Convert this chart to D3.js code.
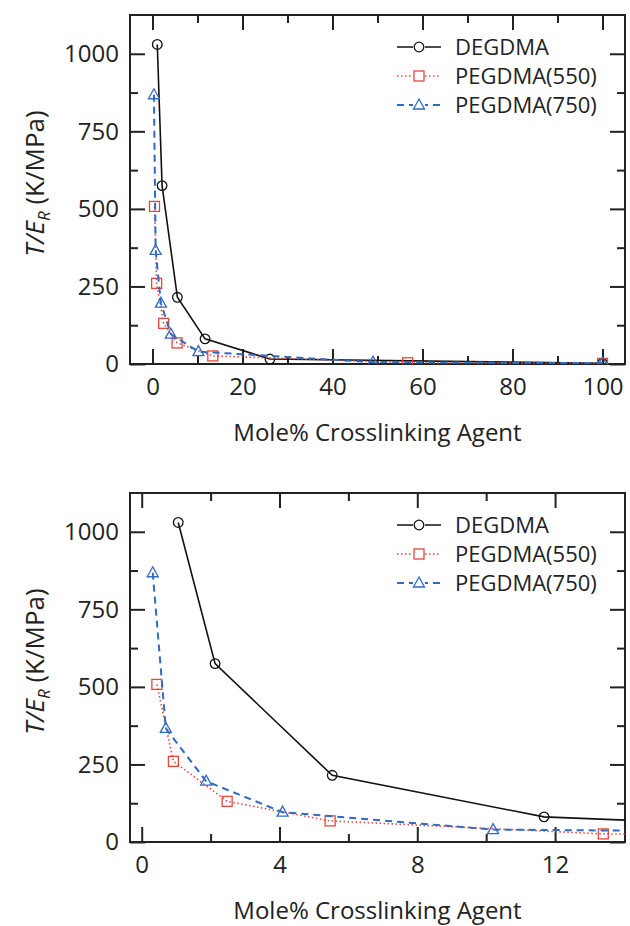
<!DOCTYPE html>
<html lang="en">
<head>
    <meta charset="UTF-8">
    <title>T/E_R vs Mole% Crosslinking Agent</title>
    <script src="https://cdn.jsdelivr.net/npm/d3@7"></script>
    <style>
        body { margin: 0; background: #fff; }
        svg text { font-family: "Open Sans", "DejaVu Sans", sans-serif; fill: #222; }
    </style>
</head>
<body>

<script>
    // values
    var degX = [1.06, 2.13, 5.53, 11.68, 26.1, 100];
    var degY = [1030, 575, 215, 81, 16, 2];
    var p550X = [0.44, 0.92, 2.48, 5.47, 13.4, 56.7, 100];
    var p550Y = [508, 260, 131, 68, 26, 4, 2];
    var p750X = [0.32, 0.70, 1.87, 4.09, 10.2, 49, 100];
    var p750Y = [868, 366, 196, 96, 40, 6, 3];

    var seriesNames = ["DEGDMA", "PEGDMA(550)", "PEGDMA(750)"];
    var yTicks = [0, 250, 500, 750, 1000];
    var yMinor = [125, 375, 625, 875];
    var topXTicks = [0, 20, 40, 60, 80, 100];
    var topXMinor = [10, 30, 50, 70, 90];
    var botXTicks = [0, 4, 8, 12];
    var botXMinor = [2, 6, 10];
    var xTitle = "Mole% Crosslinking Agent";

    var series = [
        {name: seriesNames[0], xs: degX, ys: degY, color: "#111", dash: null, width: 1.6, shape: "circle"},
        {name: seriesNames[1], xs: p550X, ys: p550Y, color: "#e5473b", dash: "1.5,2.5", width: 1.6, shape: "square"},
        {name: seriesNames[2], xs: p750X, ys: p750Y, color: "#2f6bc1", dash: "7,5", width: 2, shape: "triangle"}
    ];

    var width = 630, height = 926;
    var svg = d3.select("body").append("svg")
        .attr("width", width)
        .attr("height", height);

    function drawMarker(g, shape, color) {
        if (shape == "circle") {
            g.append("circle").attr("r", 4.8)
                .attr("fill", "none").attr("stroke", color).attr("stroke-width", 1.3);
        } else if (shape == "square") {
            g.append("rect").attr("x", -5).attr("y", -5).attr("width", 10).attr("height", 10)
                .attr("fill", "none").attr("stroke", color).attr("stroke-width", 1.3);
        } else {
            g.append("path").attr("d", "M0,-6L5.5,4L-5.5,4Z")
                .attr("fill", "none").attr("stroke", color).attr("stroke-width", 1.3);
        }
    }

    function panel(id, top, xDomain, xTicks, xMinor) {
        var left = 130, right = 625, bottom = top + 349;
        var x = d3.scaleLinear().domain(xDomain).range([left, right]);
        var y = d3.scaleLinear().domain([0, 1125]).range([bottom, top]);

        var g = svg.append("g");

        g.append("clipPath").attr("id", id)
            .append("rect")
            .attr("x", left).attr("y", top)
            .attr("width", right - left).attr("height", bottom - top);

        // ticks on all four sides, pointing inwards
        var major = 15, minor = 8;
        var axes = [
            {axis: d3.axisBottom(x).tickValues(xTicks).tickSize(-major).tickPadding(14).tickFormat(d3.format("d")), tr: "translate(0," + bottom + ")"},
            {axis: d3.axisBottom(x).tickValues(xMinor).tickSize(-minor).tickFormat(""), tr: "translate(0," + bottom + ")"},
            {axis: d3.axisTop(x).tickValues(xTicks).tickSize(-major).tickFormat(""), tr: "translate(0," + top + ")"},
            {axis: d3.axisTop(x).tickValues(xMinor).tickSize(-minor).tickFormat(""), tr: "translate(0," + top + ")"},
            {axis: d3.axisLeft(y).tickValues(yTicks).tickSize(-major).tickPadding(11).tickFormat(d3.format("d")), tr: "translate(" + left + ",0)"},
            {axis: d3.axisLeft(y).tickValues(yMinor).tickSize(-minor).tickFormat(""), tr: "translate(" + left + ",0)"},
            {axis: d3.axisRight(y).tickValues(yTicks).tickSize(-major).tickFormat(""), tr: "translate(" + right + ",0)"},
            {axis: d3.axisRight(y).tickValues(yMinor).tickSize(-minor).tickFormat(""), tr: "translate(" + right + ",0)"}
        ];
        axes.forEach(function (a) {
            var ag = g.append("g").attr("transform", a.tr).call(a.axis);
            ag.select(".domain").remove();
            ag.selectAll(".tick line").attr("stroke", "#222").attr("stroke-width", 2);
            ag.selectAll(".tick text").attr("font-size", 24).attr("fill", "#222")
                .style("font-family", "'Open Sans', sans-serif");
        });

        // frame
        g.append("rect")
            .attr("x", left).attr("y", top)
            .attr("width", right - left).attr("height", bottom - top)
            .attr("fill", "none").attr("stroke", "#222").attr("stroke-width", 2);

        var plot = g.append("g").attr("clip-path", "url(#" + id + ")");
        var line = d3.line().x(d => x(d[0])).y(d => y(d[1]));

        series.forEach(function (s) {
            var pts = s.xs.map((v, i) => [v, s.ys[i]]);
            plot.append("path")
                .datum(pts)
                .attr("d", line)
                .attr("fill", "none")
                .attr("stroke", s.color)
                .attr("stroke-width", s.width)
                .attr("stroke-dasharray", s.dash);
            pts.forEach(function (p) {
                var m = plot.append("g").attr("transform", "translate(" + x(p[0]) + "," + y(p[1]) + ")");
                drawMarker(m, s.shape, s.color);
            });
        });

        // legend
        series.forEach(function (s, i) {
            var ly = top + 32 + i * 29;
            g.append("line")
                .attr("x1", 397).attr("x2", 441).attr("y1", ly).attr("y2", ly)
                .attr("stroke", s.color).attr("stroke-width", s.width)
                .attr("stroke-dasharray", s.dash);
            var m = g.append("g").attr("transform", "translate(419," + ly + ")")
            m.append("rect").attr("x", -6).attr("y", -6).attr("width", 12).attr("height", 12).attr("fill", "#fff");
            drawMarker(m, s.shape, s.color);
            g.append("text")
                .attr("x", 455).attr("y", ly)
                .attr("dy", "0.36em")
                .attr("font-size", 22)
                .text(s.name);
        });

        // axis titles
        g.append("text")
            .attr("x", (left + right) / 2)
            .attr("y", bottom + 77)
            .attr("text-anchor", "middle")
            .attr("font-size", 24)
            .text(xTitle);

        var yl = g.append("text")
            .attr("transform", "translate(44," + ((top + bottom) / 2 - 6) + ") rotate(-90)")
            .attr("text-anchor", "middle")
            .attr("font-size", 26);
        yl.append("tspan").attr("font-style", "italic").text("T/E");
        yl.append("tspan").attr("font-style", "italic").attr("font-size", 17).attr("dy", 6).text("R");
        yl.append("tspan").attr("dy", -6).text(" (K/MPa)");
    }

    panel("clipTop", 15, [-5, 105], topXTicks, topXMinor);
    panel("clipBot", 493, [-0.34, 14.03], botXTicks, botXMinor);
</script>

</body>
</html>
